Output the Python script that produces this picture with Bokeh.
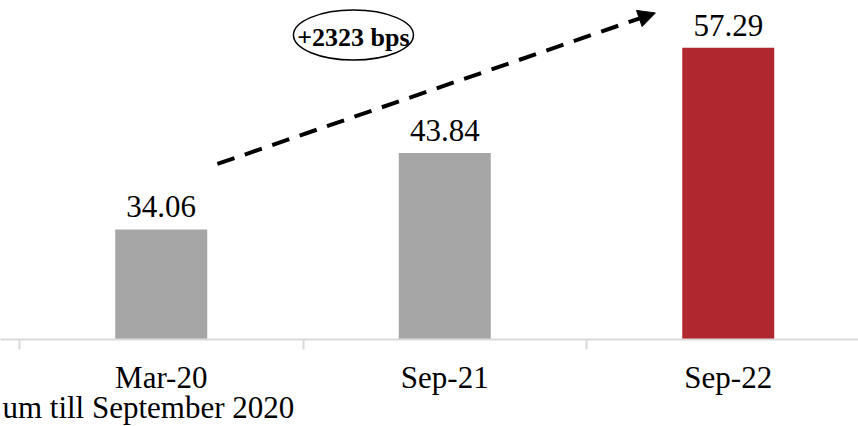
from bokeh.plotting import figure
from bokeh.models import (Range1d, FixedTicker, LabelSet, ColumnDataSource, Label,
                          Arrow, NormalHead, LinearAxis)
from bokeh.core.properties import value
from bokeh.embed import file_html
from bokeh.resources import INLINE

categories = ["Mar-20", "Sep-21", "Sep-22"]
values = [34.06, 43.84, 57.29]
value_labels = ["34.06", "43.84", "57.29"]
colors = ["#a6a6a6", "#a6a6a6", "#b0272f"]
change_label = "+2323 bps"
footnote = "um till September 2020"

FONT = "Liberation Serif"
x_pos = [i + 0.5 for i in range(len(categories))]
foot_x = 0.441  # centre of the (left-clipped) footnote line under the axis

src = ColumnDataSource(dict(x=x_pos, v=values, label=value_labels, color=colors))

p = figure(frame_width=858, frame_height=339,
           x_range=Range1d(-0.067, 2.9594), y_range=Range1d(20, 63.32),
           output_backend="svg", toolbar_location=None,
           min_border_left=0, min_border_right=0, min_border_top=0,
           min_border_bottom=0, y_axis_location=None)
p.outline_line_color = None
p.grid.visible = False
p.background_fill_color = "white"
p.border_fill_color = "white"

p.vbar(x="x", top="v", bottom=0, width=0.3245, fill_color="color",
       line_color=None, source=src)

p.add_layout(LabelSet(x="x", y="v", text="label", source=src, y_offset=12,
                      text_align="center", text_baseline="alphabetic",
                      text_font=value(FONT), text_font_size=value("31px"),
                      text_color="black"))

ax = p.xaxis[0]
ax.ticker = FixedTicker(ticks=x_pos, minor_ticks=list(range(len(categories) + 1)))
ax.major_label_overrides = {xp: c for xp, c in zip(x_pos, categories)}
ax.axis_line_color = "#d9d9d9"
ax.axis_line_width = 2
ax.major_tick_line_color = None
ax.minor_tick_line_color = "#d9d9d9"
ax.minor_tick_line_width = 2
ax.minor_tick_out = 10
ax.minor_tick_in = 0
ax.major_tick_out = 10
ax.major_label_standoff = 10
ax.major_label_text_font = FONT
ax.major_label_text_font_size = "31px"
ax.major_label_text_color = "black"

# footnote line under the category labels (second, line-less axis)
foot_ax = LinearAxis(ticker=FixedTicker(ticks=[foot_x], minor_ticks=[]),
                     major_label_overrides={foot_x: footnote},
                     axis_line_color=None, major_tick_line_color=None,
                     minor_tick_line_color=None, major_tick_out=0, major_tick_in=0,
                     minor_tick_out=0, minor_tick_in=0, major_label_standoff=-8,
                     major_label_text_font=FONT, major_label_text_font_size="31px",
                     major_label_text_color="black")
p.add_layout(foot_ax, "below")

# growth arrow
p.add_layout(Arrow(x_start=0.698, y_start=42.43, x_end=2.243, y_end=61.73,
                   line_width=4, line_dash="18 11", line_color="black",
                   end=NormalHead(size=17, fill_color="black", line_color="black")))

# ellipse annotation
p.ellipse(x=[1.178], y=[58.91], width=120, height=50,
          width_units="screen", height_units="screen",
          fill_color=None, line_color="black", line_width=1.5)
p.add_layout(Label(x=1.178, y=58.6, text=change_label, text_align="center",
                   text_baseline="middle", text_font=FONT, text_font_style="bold",
                   text_font_size="26px", text_color="black"))

open("out.html", "w").write(file_html(p, INLINE))
